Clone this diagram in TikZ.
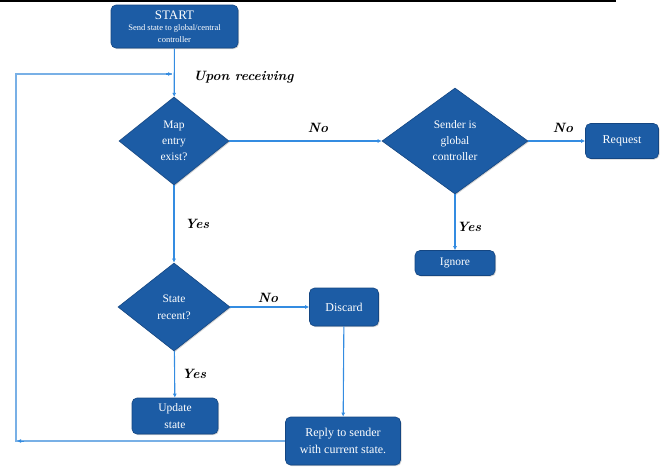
\documentclass[tikz,border=0pt]{standalone}
\usepackage{fontspec}
\newfontfamily\tnr{Liberation Serif}
\usetikzlibrary{shapes.geometric,arrows.meta,shadows}
\definecolor{boxfill}{RGB}{28,92,165}
\definecolor{boxedge}{RGB}{20,70,130}
\definecolor{conn}{RGB}{52,140,225}
\definecolor{loopc}{RGB}{120,176,230}
\tikzset{
  x=1pt,y=1pt,
  base/.style={fill=boxfill,draw=boxedge,line width=0.6pt,text=white,align=center,
    drop shadow={shadow xshift=1pt,shadow yshift=-1pt,opacity=0.35}},
  fs/.style 2 args={font=\tnr\fontsize{#1}{#2}\selectfont},
  procbox/.style={base,rounded corners=5pt,inner sep=1pt},
  decide/.style={base,diamond,inner sep=0pt,aspect=1.25},
  conline/.style={draw=conn,line width=1.1pt,-{Latex[length=4pt,width=4pt]}},
  loopline/.style={draw=loopc,line width=1.4pt},
  lbl/.style={font=\fontsize{13.5}{15}\selectfont\bfseries\itshape,text=black}
}
\begin{document}
\begin{tikzpicture}
\useasboundingbox (0,0) rectangle (664,-467);
\draw[line width=2.5pt,black] (0,-0.5) -- (616,-0.5);

\node[procbox,fs={8.5}{12},minimum width=127pt,minimum height=43pt] (start) at (174.5,-26.5)
  {{\fontsize{13}{14}\selectfont START}\\[-1pt]Send state to global/central\\controller};
\node[decide,fs={11.5}{16},minimum width=110pt,minimum height=88pt] (map) at (174,-141)
  {Map\\entry\\exist?};
\node[decide,fs={11.5}{16},minimum width=146pt,minimum height=106pt] (sender) at (455,-141)
  {Sender is\\global\\controller};
\node[procbox,fs={12}{14},minimum width=73pt,minimum height=35pt] (request) at (622,-141)
  {Request};
\node[procbox,fs={11.5}{14},minimum width=80pt,minimum height=25pt] (ignore) at (455,-263)
  {Ignore};
\node[decide,fs={11.5}{17},minimum width=112pt,minimum height=88pt] (state) at (174,-307)
  {State\\recent?};
\node[procbox,fs={12}{14},minimum width=69pt,minimum height=38pt] (discard) at (344,-307)
  {Discard};
\node[procbox,fs={11.5}{16.5},minimum width=86pt,minimum height=36pt] (update) at (175,-416)
  {Update\\state};
\node[procbox,fs={12}{17},minimum width=115pt,minimum height=48pt] (reply) at (343,-441)
  {Reply to sender\\with current state.};

\coordinate (lb) at (16,-441);
\coordinate (lt) at (16,-74);
\coordinate (lend) at (172,-74);

\path[conline] (start) -- (map);
\path[conline] (map) -- (sender);
\path[conline] (sender) -- (request);
\path[conline] (sender) -- (ignore);
\path[conline] (map) -- (state);
\path[conline] (state) -- (discard);
\path[conline] (state) -- (update);
\path[conline] (discard) -- (reply);
\draw[loopline] (reply.west |- lb) -- (lb) -- (lt) -- (lend);
\path[draw=conn,line width=1.1pt,-{Latex[length=4pt,width=4pt]}] ([xshift=-6pt]lend) -- (lend);
\path[draw=conn,line width=1pt,-{Latex[length=4pt,width=4pt]}] ([xshift=8pt]lb) -- ([xshift=1pt]lb);

\node[lbl,anchor=west] (upon) at (190,-77) {Upon receiving};
\node[lbl] (no1) at (318,-128) {No};
\node[lbl] (no2) at (563,-128) {No};
\node[lbl] (yes1) at (469,-227) {Yes};
\node[lbl] (yes2) at (197,-224) {Yes};
\node[lbl] (no3) at (268,-298) {No};
\node[lbl] (yes3) at (194,-374) {Yes};
\end{tikzpicture}
\end{document}
